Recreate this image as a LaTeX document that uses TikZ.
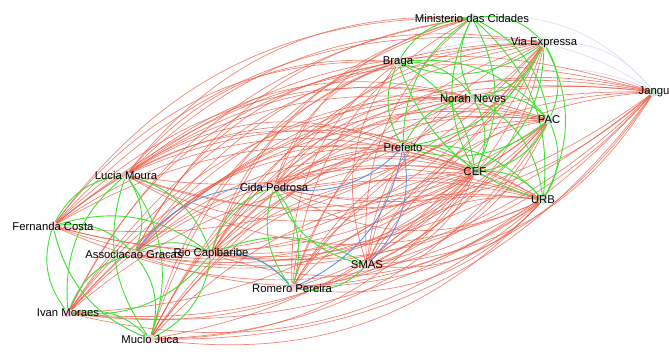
\documentclass[tikz,border=0pt]{standalone}
\usepackage{fontspec}
\setmainfont{Liberation Sans}
\usetikzlibrary{backgrounds}

\definecolor{redge}{RGB}{236,88,66}
\definecolor{gedge}{RGB}{62,226,48}
\definecolor{bedge}{RGB}{92,148,232}
\definecolor{fedge}{RGB}{222,222,246}
\definecolor{gdot}{RGB}{150,205,170}
\definecolor{pdot}{RGB}{235,175,185}

\begin{document}
\begin{tikzpicture}[x=1pt,y=-1pt, semithick,
    vtx/.style={circle,inner sep=0pt,minimum size=9pt,fill opacity=0.55},
    lnode/.style={vtx,fill=pdot},
    rnode/.style={vtx,fill=gdot},
    every label/.style={font=\fontsize{11.3}{13}\selectfont,inner sep=0pt,text opacity=1},
    red link/.style={draw=redge,line width=0.7pt,draw opacity=0.72},
    green link/.style={draw=gedge,line width=0.9pt},
    blue link/.style={draw=bedge,line width=0.9pt},
    faint link/.style={draw=fedge,line width=0.7pt}]
      \useasboundingbox (0,0) rectangle (669,352);
      % right group
      \node [rnode,label=center:Ministerio das Cidades] (mc) at (472,18) {};
      \node [rnode,label=center:Via Expressa] (vx) at (544,43) {};
      \node [rnode,label=center:Braga] (br) at (398,62) {};
      \node [rnode,label=center:Jangu] (jg) at (654,92) {};
      \node [rnode,label=center:Norah Neves] (nn) at (473,98) {};
      \node [rnode,label=center:PAC] (pa) at (549,120) {};
      \node [rnode,label=center:Prefeito] (pf) at (403,147) {};
      \node [rnode,label=center:CEF] (ce) at (475,172) {};
      \node [rnode,label=center:URB] (ur) at (543,200) {};
      % left group
      \node [lnode,label=center:Lucia Moura] (lm) at (126,175) {};
      \node [lnode,label=center:Cida Pedrosa] (cp) at (274,187) {};
      \node [lnode,label=center:Fernanda Costa] (fc) at (53,226) {};
      \node [lnode,label=center:Associacao Gracas] (ag) at (134,254) {};
      \node [lnode,label=center:Rio Capibaribe] (rc) at (211,254) {};
      \node [lnode,label=center:SMAS] (sm) at (367,265) {};
      \node [lnode,label=center:Romero Pereira] (rp) at (292,288) {};
      \node [lnode,label=center:Ivan Moraes] (im) at (68,313) {};
      \node [lnode,label=center:Mucio Juca] (mj) at (150,339) {};

      \begin{pgfonlayer}{background}
      \foreach \a/\b in {mc/jg,vx/jg,br/jg,nn/jg,pa/jg,mj/fc,im/ag,ag/rp}
        \draw [faint link] (\a) to [bend left=27] (\b);
      \foreach \s in {lm,fc,ag,rc,im,mj,cp,rp,sm}
        \foreach \t in {mc,vx,br,nn,pa,ce,ur,jg}
          \draw [red link] (\s) to [bend left=27] (\t);
      \foreach \s in {lm,fc,ag,rc,im,mj}
        \draw [red link] (\s) to [bend left=27] (pf);
      \foreach \s in {jg,ur,pa,ce,vx}
        \foreach \t in {lm,fc,ag,rc,im,mj,cp,rp,sm}
          \draw [red link] (\s) to [bend left=27] (\t);
      \foreach \a/\b in {mc/vx,vx/ur,mc/ur,mc/pa,pf/mc,br/mc,mc/ce,ce/mc,nn/mc,
          vx/br,vx/pf,vx/nn,vx/ce,vx/pa,br/nn,br/pa,br/ce,ur/br,pf/br,
          nn/pa,nn/ce,nn/ur,pf/nn,pa/pf,pa/ce,pa/ur,pf/ce,pf/ur,ce/ur}
        \draw [green link] (\a) to [bend left=27] (\b);
      \foreach \a/\b in {fc/lm,im/fc,mj/fc,im/lm,lm/mj,mj/lm,lm/ag,lm/rc,rc/im,
          rc/mj,fc/ag,fc/rc,im/ag,ag/mj,ag/rc,rc/cp,cp/rp,rp/cp,sm/cp,rc/sm,
          sm/rp,rc/rp,im/mj}
        \draw [green link] (\a) to [bend left=27] (\b);
      \foreach \a/\b in {pf/cp,pf/sm,pf/rp,ag/cp,rc/rp}
        \draw [blue link] (\a) to [bend left=27] (\b);
      \end{pgfonlayer}
\end{tikzpicture}
\end{document}
